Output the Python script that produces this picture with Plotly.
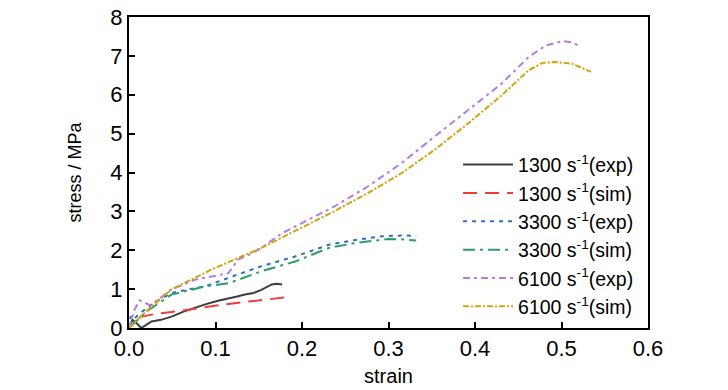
import plotly.graph_objects as go

# ---- data ----
exp1300_x = [0, 0.004, 0.009, 0.014, 0.02, 0.026, 0.037, 0.05, 0.063, 0.076, 0.09, 0.103, 0.115, 0.125, 0.134, 0.144, 0.153, 0.16, 0.165, 0.171, 0.177]
exp1300_y = [0, 0.21, 0.12, 0.0, 0.08, 0.17, 0.21, 0.3, 0.42, 0.52, 0.62, 0.7, 0.77, 0.81, 0.86, 0.9, 0.98, 1.05, 1.12, 1.14, 1.12]

sim1300_x = [0.012, 0.03, 0.049, 0.07, 0.095, 0.115, 0.134, 0.16, 0.182]
sim1300_y = [0.28, 0.36, 0.41, 0.48, 0.56, 0.62, 0.67, 0.73, 0.79]

exp3300_x = [0, 0.002, 0.005, 0.009, 0.015, 0.029, 0.049, 0.07, 0.088, 0.115, 0.153, 0.192, 0.231, 0.26, 0.293, 0.315, 0.332]
exp3300_y = [0, 0.3, 0.22, 0.3, 0.42, 0.65, 0.9, 1.0, 1.07, 1.29, 1.59, 1.84, 2.14, 2.26, 2.36, 2.38, 2.37]

sim3300_x = [0, 0.02, 0.049, 0.07, 0.088, 0.115, 0.153, 0.192, 0.231, 0.26, 0.3, 0.315, 0.332]
sim3300_y = [0, 0.42, 0.86, 0.98, 1.07, 1.15, 1.46, 1.71, 2.06, 2.18, 2.29, 2.28, 2.25]

exp6100_x = [0, 0.006, 0.012, 0.018, 0.025, 0.035, 0.049, 0.076, 0.095, 0.115, 0.126, 0.14, 0.153, 0.177, 0.2, 0.237, 0.276, 0.315, 0.353, 0.392, 0.431, 0.462, 0.482, 0.501, 0.512, 0.522]
exp6100_y = [0, 0.45, 0.71, 0.65, 0.58, 0.75, 0.99, 1.24, 1.33, 1.41, 1.76, 1.9, 2.06, 2.44, 2.7, 3.12, 3.64, 4.24, 4.92, 5.6, 6.29, 6.97, 7.27, 7.38, 7.35, 7.24]

sim6100_x = [0, 0.022, 0.049, 0.095, 0.153, 0.2, 0.237, 0.276, 0.315, 0.353, 0.392, 0.431, 0.462, 0.478, 0.493, 0.512, 0.534]
sim6100_y = [0, 0.47, 0.99, 1.5, 2.06, 2.58, 3.0, 3.47, 3.98, 4.58, 5.26, 5.99, 6.63, 6.82, 6.84, 6.8, 6.59]

x_ticks = [0.0, 0.1, 0.2, 0.3, 0.4, 0.5, 0.6]
y_ticks = [0, 1, 2, 3, 4, 5, 6, 7, 8]

names = ["1300 s<sup>-1</sup>(exp)", "1300 s<sup>-1</sup>(sim)", "3300 s<sup>-1</sup>(exp)",
         "3300 s<sup>-1</sup>(sim)", "6100 s<sup>-1</sup>(exp)", "6100 s<sup>-1</sup>(sim)"]

series = [
    (exp1300_x, exp1300_y, "#3c3c3c", "solid"),
    (sim1300_x, sim1300_y, "#ee3b3b", "14px,8px"),
    (exp3300_x, exp3300_y, "#2f6fbf", "4px,5px"),
    (sim3300_x, sim3300_y, "#2a9d6e", "12px,5px,3px,5px"),
    (exp6100_x, exp6100_y, "#b07ee0", "7px,4px,3px,4px"),
    (sim6100_x, sim6100_y, "#d4a20a", "6px,2px,2px,2px"),
]

fig = go.Figure()
for (xs, ys, col, dash), nm in zip(series, names):
    fig.add_trace(go.Scatter(x=xs, y=ys, mode="lines", name=nm,
                             line=dict(color=col, width=2, dash=dash)))

font_main = "Liberation Sans, Arial, sans-serif"
fig.update_layout(
    width=728, height=390,
    margin=dict(l=129, r=80, t=17, b=62),
    paper_bgcolor="white", plot_bgcolor="white",
    font=dict(family=font_main, size=20, color="black"),
    showlegend=True,
    legend=dict(x=0.634, y=0.587, xanchor="left", yanchor="top",
                bgcolor="rgba(0,0,0,0)", borderwidth=0,
                font=dict(family=font_main, size=19.5),
                tracegroupgap=0, itemwidth=50),
)
fig.update_xaxes(range=[0, 0.6], tickvals=x_ticks, ticktext=[f"{v:.1f}" for v in x_ticks],
                 ticks="inside", ticklen=6, tickwidth=1.5, tickcolor="black",
                 showline=True, linecolor="black", linewidth=2, mirror=True,
                 showgrid=False, zeroline=False, automargin=False,
                 tickfont=dict(size=22),
                 title=dict(text="strain", font=dict(size=20), standoff=9))
fig.update_yaxes(range=[0, 8], tickvals=y_ticks, ticktext=[str(v) for v in y_ticks],
                 ticks="inside", ticklen=6, tickwidth=1.5, tickcolor="black",
                 showline=True, linecolor="black", linewidth=2, mirror=True,
                 showgrid=False, zeroline=False, automargin=False,
                 tickfont=dict(size=22),
                 title=dict(text="stress / MPa", font=dict(size=18), standoff=24))

# remove the default 8px page margin so the 728x390 figure fills the window exactly
fig.write_html("out.html", config={"displayModeBar": False},
               post_script="document.body.style.margin='0';document.body.style.overflow='hidden';")
